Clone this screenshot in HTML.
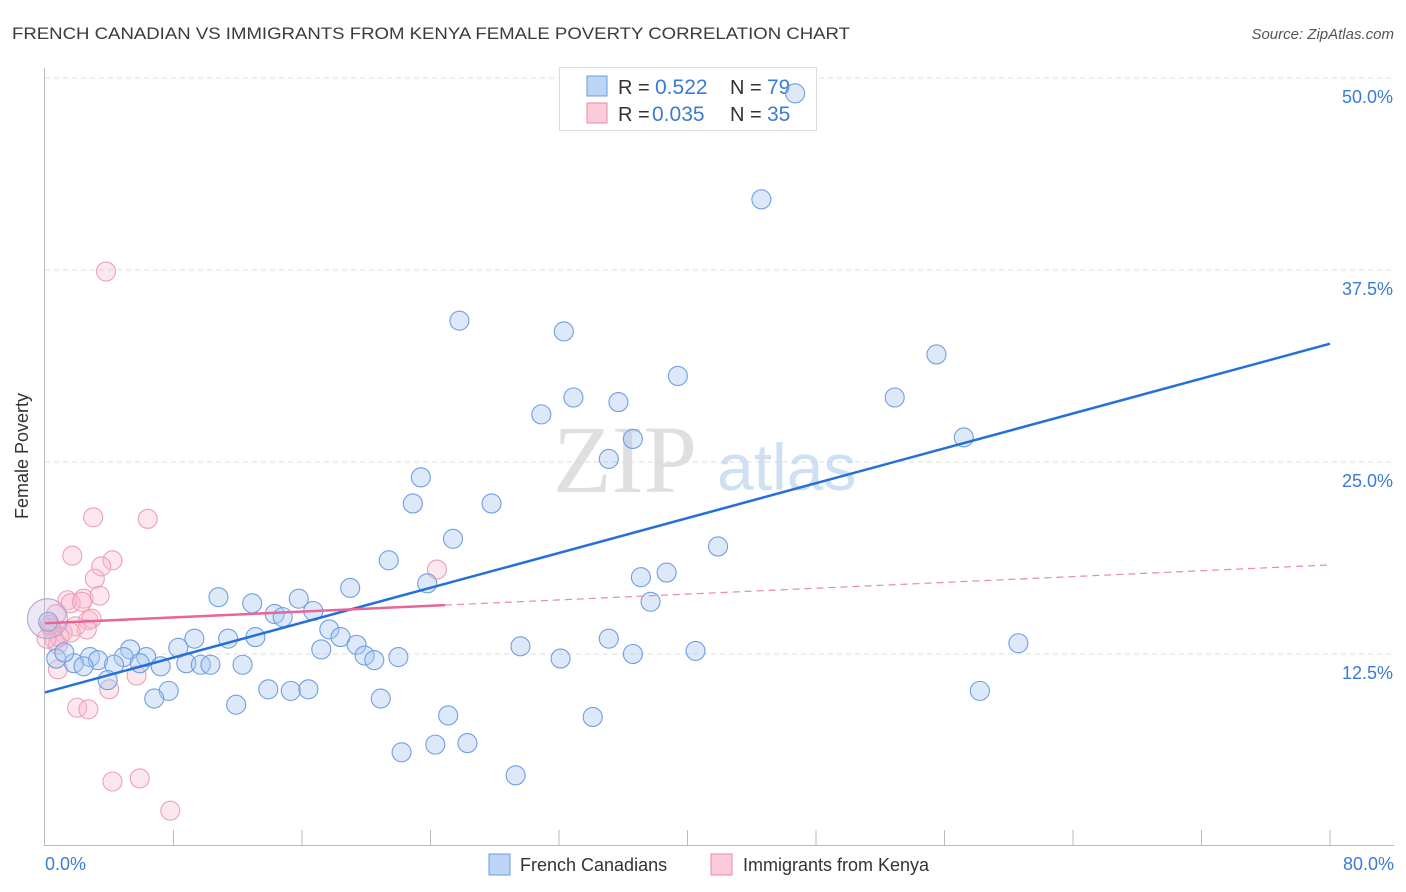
<!DOCTYPE html>
<html><head><meta charset="utf-8"><style>
body{margin:0;background:#fff;}
svg{display:block;font-family:"Liberation Sans",sans-serif;}
</style></head><body>
<svg id="chart" width="1406" height="892" viewBox="0 0 1406 892">
<text x="12" y="39" font-size="17" fill="#3b3b3b" textLength="838" lengthAdjust="spacingAndGlyphs">FRENCH CANADIAN VS IMMIGRANTS FROM KENYA FEMALE POVERTY CORRELATION CHART</text>
<text x="1394" y="39" font-size="15" fill="#555" font-style="italic" text-anchor="end">Source: ZipAtlas.com</text>
<g id="grid"></g>
<g>
<text x="553" y="492" font-family="Liberation Serif,serif" font-size="96" fill="#d8d8d8" opacity="0.8">ZIP</text>
<text x="717" y="490" font-size="66" fill="#bcd3ef" opacity="0.7">atlas</text>
</g>
<g id="axes"></g>
<g>
<rect x="559.5" y="67.5" width="257" height="63" fill="#fff" stroke="#ddd"/>
<g>
<rect x="587" y="76" width="20" height="20" fill="#bcd4f6" stroke="#6a9be0"/>
<text x="618" y="94" font-size="20" fill="#333">R =</text>
<text x="655" y="94" font-size="21" fill="#3a7bd5">0.522</text>
<text x="730" y="94" font-size="20" fill="#333">N =</text>
<text x="767" y="94" font-size="21" fill="#3a7bd5">79</text></g>
<g>
<rect x="587" y="103" width="20" height="20" fill="#fbcbda" stroke="#e88aa8"/>
<text x="618" y="121" font-size="20" fill="#333">R =</text>
<text x="652" y="121" font-size="21" fill="#3a7bd5">0.035</text>
<text x="730" y="121" font-size="20" fill="#333">N =</text>
<text x="767" y="121" font-size="21" fill="#3a7bd5">35</text></g>
</g>
<g id="points"></g>
<g id="trends"></g>
<text x="28" y="456" font-size="18" fill="#333" text-anchor="middle" transform="rotate(-90 28 456)">Female Poverty</text>
<text x="45" y="870" font-size="18" fill="#3a7bd5">0.0%</text>
<text x="1394" y="870" font-size="18" fill="#3a7bd5" text-anchor="end">80.0%</text>
<g>
<rect x="489" y="854" width="21" height="21" fill="#bcd4f6" stroke="#6a9be0"/>
<text x="520" y="871" font-size="18" fill="#333">French Canadians</text>
<rect x="711" y="854" width="21" height="21" fill="#fbcbda" stroke="#e88aa8"/>
<text x="743" y="871" font-size="18" fill="#333">Immigrants from Kenya</text>
</g>
</svg>
<script>
const yTicks=[12.5,25,37.5,50];
const yTickLabels=["12.5%","25.0%","37.5%","50.0%"];
const xTicks=[8,16,24,32,40,48,56,64,72,80];
const blueX=[46.7,44.6,25.8,32.3,55.5,39.4,32.9,52.9,35.7,30.9,36.6,57.2,35.1,23.4,22.9,27.8,25.4,41.9,21.4,37.1,38.7,23.8,19.0,10.8,15.8,12.9,37.7,16.7,14.3,14.8,17.7,18.4,13.1,11.4,9.3,35.1,60.6,19.4,8.3,17.2,29.6,40.5,5.3,6.3,19.9,20.5,22.0,36.6,32.1,2.8,4.9,3.3,0.7,5.9,7.2,8.8,9.7,10.3,12.3,1.8,2.4,4.3,1.2,3.9,7.7,6.8,20.9,13.9,15.3,16.4,11.9,58.2,25.1,34.1,24.3,26.3,22.2,29.3,0.2];
const blueY=[49.0,42.1,34.2,33.5,32.0,30.6,29.2,29.2,28.9,28.1,26.5,26.6,25.2,24.0,22.3,22.3,20.0,19.5,18.6,17.5,17.8,17.1,16.8,16.2,16.1,15.8,15.9,15.3,15.1,14.9,14.1,13.6,13.6,13.5,13.5,13.5,13.2,13.1,12.9,12.8,13.0,12.7,12.8,12.3,12.4,12.1,12.3,12.5,12.2,12.3,12.3,12.1,12.2,11.9,11.7,11.9,11.8,11.8,11.8,11.9,11.7,11.8,12.6,10.8,10.1,9.6,9.6,10.2,10.1,10.2,9.2,10.1,8.5,8.4,6.6,6.7,6.1,4.6,14.6];
const pinkX=[3.8,3.0,6.4,1.7,4.2,3.5,3.1,1.4,2.4,3.4,1.6,2.3,2.7,2.9,0.7,1.9,2.6,1.1,0.4,0.6,0.8,0.9,1.6,0.1,24.4,5.7,0.8,4.0,2.0,2.7,4.2,5.9,7.8,0.3];
const pinkY=[37.4,21.4,21.3,18.9,18.6,18.2,17.4,16.0,16.1,16.3,15.8,15.9,14.7,14.8,15.1,14.3,14.1,13.9,14.2,13.4,13.1,13.6,13.9,13.5,18.0,11.1,11.5,10.2,9.0,8.9,4.2,4.4,2.3,14.4];
const blueTrend=[10.0,32.7];
const pinkTrend=[14.5,18.3];
const pinkSolidEnd=24.9;

const NS="http://www.w3.org/2000/svg";
const X0=45,X1=1330,Y0=846,Y50=78;
const sx=v=>X0+(X1-X0)*v/80;
const sy=v=>Y0-(Y0-Y50)*v/50;
function mk(tag,attrs,parent){const e=document.createElementNS(NS,tag);for(const k in attrs)e.setAttribute(k,attrs[k]);parent.appendChild(e);return e;}
const grid=document.getElementById('grid'),axes=document.getElementById('axes'),pts=document.getElementById('points'),tr=document.getElementById('trends');
yTicks.forEach((t,i)=>{
 const l=mk('line',{x1:45,x2:1394,y1:sy(t),y2:sy(t),stroke:'#ddd','stroke-dasharray':'5,4'},grid);
 
 
 const tx=mk('text',{x:1393,y:sy(t)+25,'font-size':18,fill:'#3a7bd5','text-anchor':'end'},grid);
 tx.textContent=yTickLabels[i];
 
 
});
const la=mk('line',{x1:44.5,x2:44.5,y1:68,y2:846,stroke:'#bbb'},axes);


const ba=mk('line',{x1:45,x2:1394,y1:845.5,y2:845.5,stroke:'#bbb'},axes);


xTicks.forEach(t=>{
 const l=mk('line',{x1:sx(t),x2:sx(t),y1:830,y2:846,stroke:'#bbb'},axes);
 
 
});
pinkX.forEach((x,i)=>{
 const c=mk('circle',{cx:sx(x),cy:sy(pinkY[i]),r:9.5,fill:'rgba(248,185,205,0.35)',stroke:'#eba0b8','stroke-width':1.1},pts);
 
 
});
blueX.forEach((x,i)=>{
 const c=mk('circle',{cx:sx(x),cy:sy(blueY[i]),r:9.5,fill:'rgba(170,200,240,0.4)',stroke:'#6f9fe2','stroke-width':1.1},pts);
 
 
});
const big=mk('circle',{cx:sx(0.15),cy:sy(14.8),r:20,fill:'rgba(200,175,215,0.3)',stroke:'#b3a8d5','stroke-width':1.1},pts);


const bl=mk('line',{x1:sx(0),y1:sy(blueTrend[0]),x2:sx(80),y2:sy(blueTrend[1]),stroke:'#2470d8','stroke-width':2.5},tr);


const pAt=x=>pinkTrend[0]+(pinkTrend[1]-pinkTrend[0])*x/80;
const pd=mk('line',{x1:sx(pinkSolidEnd),y1:sy(pAt(pinkSolidEnd)),x2:sx(80),y2:sy(pinkTrend[1]),stroke:'#e88aa8','stroke-width':1.2,'stroke-dasharray':'7,5'},tr);


const ps=mk('line',{x1:sx(0),y1:sy(pinkTrend[0]),x2:sx(pinkSolidEnd),y2:sy(pAt(pinkSolidEnd)),stroke:'#e8649a','stroke-width':2.5},tr);


</script>
</body></html>
